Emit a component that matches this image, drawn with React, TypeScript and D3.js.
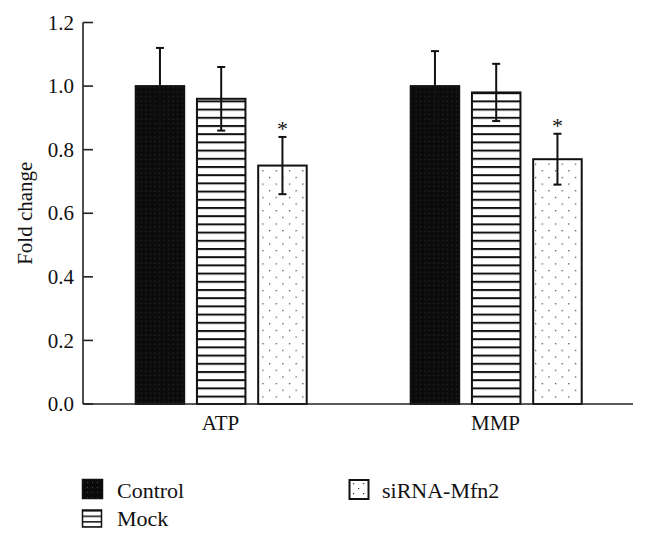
import React from "react";
import * as d3 from "d3";

const categories = ["ATP", "MMP"];
const seriesNames = ["Control", "Mock", "siRNA-Mfn2"];
const controlValues = [1.0, 1.0];
const mockValues = [0.96, 0.98];
const sirnaValues = [0.75, 0.77];
const controlErrors = [0.12, 0.11];
const mockErrors = [0.1, 0.09];
const sirnaErrors = [0.09, 0.08];
const sirnaSignificant = [true, true];
const yTicks = [0, 0.2, 0.4, 0.6, 0.8, 1.0, 1.2];
const yLabel = "Fold change";

const W = 648;
const H = 540;
const FONT = '"Liberation Serif", "DejaVu Serif", serif';

export default function App() {
  const x0 = d3.scaleBand<string>().domain(categories).range([83, 633]).padding(0);
  const x1 = d3
    .scaleBand<string>()
    .domain(seriesNames)
    .range([52.7, 223.7])
    .paddingInner(0.208)
    .paddingOuter(0);
  const y = d3.scaleLinear().domain([0, 1.2]).range([404, 22.5]);

  const valuesBySeries = [controlValues, mockValues, sirnaValues];
  const errorsBySeries = [controlErrors, mockErrors, sirnaErrors];
  const fills = ["url(#pControl)", "url(#pMock)", "url(#pSirna)"];
  const legendFills = ["url(#lControl)", "url(#lMock)", "url(#lSirna)"];

  const bars: any[] = [];
  categories.forEach((c, ci) => {
    seriesNames.forEach((s, si) => {
      bars.push({
        c,
        s,
        si,
        v: valuesBySeries[si][ci],
        e: errorsBySeries[si][ci],
        sig: si === 2 && sirnaSignificant[ci],
      });
    });
  });

  const legendItems = [
    { name: seriesNames[0], x: 82.5, y: 479.5, w: 20, h: 19, tx: 117, ty: 498 },
    { name: seriesNames[1], x: 82.5, y: 510, w: 19, h: 17, tx: 117, ty: 526 },
    { name: seriesNames[2], x: 349.5, y: 480, w: 19, h: 19, tx: 382, ty: 498 },
  ];

  const txt = { fontFamily: FONT };

  return (
    <svg
      width={W}
      height={H}
      style={{ position: "absolute", left: 0, top: 0, background: "#fff", fontFamily: FONT }}
    >
      <defs>
        <pattern id="pControl" patternUnits="userSpaceOnUse" width={4.5} height={4.5}>
          <rect width={4.5} height={4.5} fill="#0b0b0b" />
          <rect x={1.5} y={1.5} width={1} height={1} fill="#3c3c3c" />
        </pattern>
        <pattern id="pMock" patternUnits="userSpaceOnUse" width={10} height={8.2} y={2}>
          <rect width={10} height={8.2} fill="#fff" />
          <rect y={0} width={10} height={2} fill="#111" />
        </pattern>
        <pattern id="pSirna" patternUnits="userSpaceOnUse" width={13.3} height={13.3} x={2} y={3}>
          <rect width={13.3} height={13.3} fill="#fff" />
          <rect x={1} y={1} width={1.2} height={1.2} fill="#333" />
          <rect x={7.65} y={7.65} width={1.2} height={1.2} fill="#333" />
        </pattern>
        <pattern id="lControl" patternUnits="userSpaceOnUse" width={5} height={5}>
          <rect width={5} height={5} fill="#0b0b0b" />
          <rect x={2} y={2} width={1} height={1} fill="#444" />
        </pattern>
        <pattern id="lMock" patternUnits="userSpaceOnUse" width={10} height={5.5} y={510}>
          <rect width={10} height={5.5} fill="#fff" />
          <rect y={0} width={10} height={1.6} fill="#222" />
        </pattern>
        <pattern id="lSirna" patternUnits="userSpaceOnUse" width={10} height={10} x={352} y={482}>
          <rect width={10} height={10} fill="#fff" />
          <rect x={1} y={1} width={1.2} height={1.2} fill="#333" />
          <rect x={6} y={6} width={1.2} height={1.2} fill="#333" />
        </pattern>
      </defs>

      {bars.map((b, i) => {
        const bx = (x0(b.c) as number) + (x1(b.s) as number);
        const bw = x1.bandwidth();
        const top = y(b.v);
        return (
          <rect
            key={"bar" + i}
            x={bx}
            y={top}
            width={bw}
            height={y(0) - top}
            fill={fills[b.si]}
            stroke="#111"
            strokeWidth={2}
          />
        );
      })}

      {bars.map((b, i) => {
        const cx = (x0(b.c) as number) + (x1(b.s) as number) + x1.bandwidth() / 2;
        const yt = y(b.v + b.e);
        const yb = y(b.v - b.e);
        const cap = 4;
        return (
          <g key={"err" + i} stroke="#111" strokeWidth={2}>
            <line x1={cx} x2={cx} y1={yt} y2={yb} />
            <line x1={cx - cap} x2={cx + cap} y1={yt} y2={yt} />
            <line x1={cx - cap} x2={cx + cap} y1={yb} y2={yb} />
            {b.sig && (
              <text
                x={cx}
                y={yt - 1}
                textAnchor="middle"
                fontSize={22}
                fill="#111"
                stroke="none"
                style={txt}
              >
                *
              </text>
            )}
          </g>
        );
      })}

      <g stroke="#222" strokeWidth={1.6}>
        <line x1={83} x2={83} y1={y(1.2)} y2={y(0)} />
        <line x1={83} x2={633} y1={y(0)} y2={y(0)} />
        {yTicks.map((t) => (
          <line key={"tk" + t} x1={83} x2={93} y1={y(t)} y2={y(t)} />
        ))}
      </g>
      {yTicks.map((t) => (
        <text
          key={"tl" + t}
          x={74}
          y={y(t)}
          dy="0.34em"
          textAnchor="end"
          fontSize={21}
          fill="#111"
          style={txt}
        >
          {d3.format(".1f")(t)}
        </text>
      ))}
      <text
        transform={`translate(32,${(y(0) + y(1.2)) / 2}) rotate(-90)`}
        textAnchor="middle"
        fontSize={21}
        fill="#111"
        style={txt}
      >
        {yLabel}
      </text>
      {categories.map((c) => (
        <text
          key={"cat" + c}
          x={(x0(c) as number) + x0.bandwidth() / 2}
          y={429.5}
          textAnchor="middle"
          fontSize={21}
          fill="#111"
          style={txt}
        >
          {c}
        </text>
      ))}

      {legendItems.map((l, i) => (
        <g key={"lg" + i}>
          <rect
            x={l.x}
            y={l.y}
            width={l.w}
            height={l.h}
            fill={legendFills[i]}
            stroke="#111"
            strokeWidth={i === 2 ? 2 : 1.5}
          />
          <text x={l.tx} y={l.ty} fontSize={22} fill="#111" style={txt}>
            {l.name}
          </text>
        </g>
      ))}
    </svg>
  );
}
